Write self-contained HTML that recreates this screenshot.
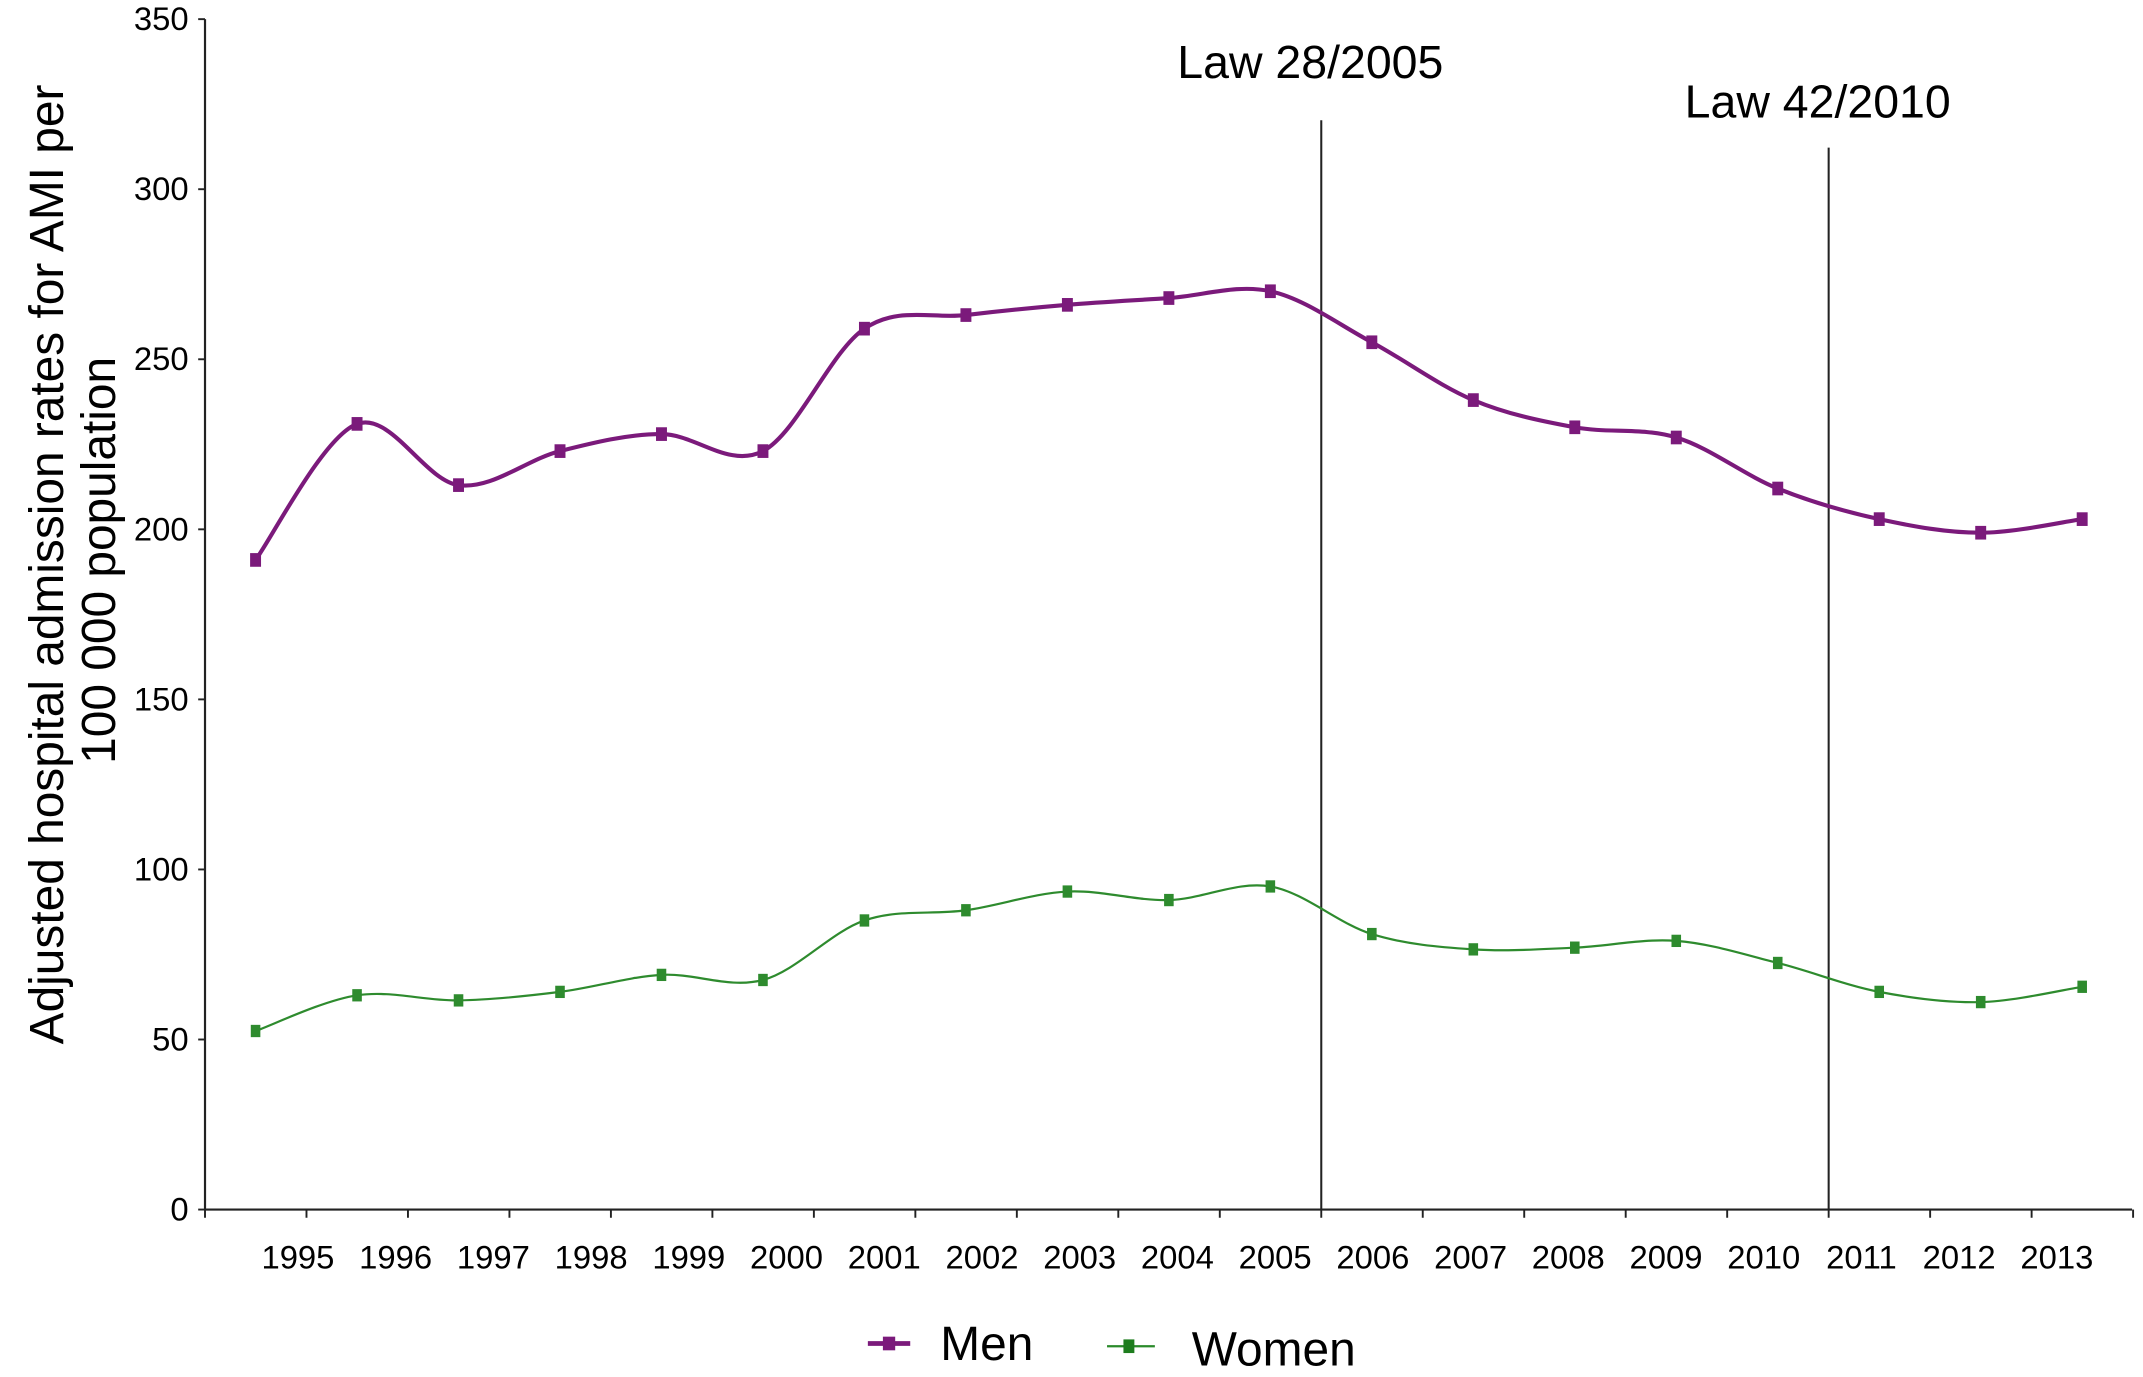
<!DOCTYPE html>
<html><head><meta charset="utf-8"><style>
html,body{margin:0;padding:0;background:#fff;}
svg{display:block;font-family:"Liberation Sans",sans-serif;}
</style></head><body>
<svg id="chart" width="2143" height="1377" viewBox="0 0 1568 1007.5" xmlns="http://www.w3.org/2000/svg">
<g id="axes"></g>
<g id="series"></g>
<text transform="translate(46,413) rotate(-90)" text-anchor="middle" font-size="35" fill="#000">Adjusted hospital admission rates for AMI per</text>
<text transform="translate(84,410) rotate(-90)" text-anchor="middle" font-size="35" fill="#000">100 000 population</text>
<g>
  <line x1="635" y1="983" x2="666" y2="983" stroke="#7b1a7b" stroke-width="3.5"/>
  <rect x="646" y="978" width="9" height="10" fill="#7b1a7b"/>
  <text x="688" y="995" font-size="35">Men</text>
  <line x1="810" y1="985" x2="845" y2="985" stroke="#2a8a2a" stroke-width="1.6"/>
  <rect x="822" y="980" width="8" height="10" fill="#1e7d1e"/>
  <text x="872" y="999" font-size="35">Women</text>
</g>
</svg>
<script>
const years = ["1995","1996","1997","1998","1999","2000","2001","2002","2003","2004","2005","2006","2007","2008","2009","2010","2011","2012","2013"];
const menValues = [191,231,213,223,228,223,259,263,266,268,270,255,238,230,227,212,203,199,203];
const womenValues = [52.5,63,61.5,64,69,67.5,85,88,93.5,91,95,81,76.5,77,79,72.5,64,61,65.5];
const yTicks = [0,50,100,150,200,250,300,350];
const lawLabels = ["Law 28/2005","Law 42/2010"];
const lawAfterIndex = [10,15];

const NS="http://www.w3.org/2000/svg";
const X0=150, X1=1560, Y0=885, YTOP=14, CAT=74.25, YMAX=350;
function xScale(i){return X0+37+CAT*i;}
function tickX(i){return X0+CAT*i;}
function labelX(i){return 218+71.5*i;}
function yScale(v){return Y0-(Y0-YTOP)*v/YMAX;}
function mk(tag,attrs,parent){const e=document.createElementNS(NS,tag);for(const k in attrs)e.setAttribute(k,attrs[k]);parent.appendChild(e);return e;}
const axes=document.getElementById('axes');
const series=document.getElementById('series');

const ya=mk('line',{x1:X0,y1:YTOP,x2:X0,y2:Y0,stroke:'#222','stroke-width':1.6},axes);


const xa=mk('line',{x1:X0,y1:Y0,x2:X1,y2:Y0,stroke:'#222','stroke-width':1.6},axes);



yTicks.forEach(v=>{
  const y=yScale(v);
  const t=mk('line',{x1:X0-5,y1:y,x2:X0,y2:y,stroke:'#222','stroke-width':1.4},axes);
  
  
  const l=mk('text',{x:X0-12,y:y+8,'text-anchor':'end','font-size':24,fill:'#000'},axes);
  l.textContent=v;
  
  
});
for(let i=0;i<=years.length;i++){
  const x=tickX(i);
  const t=mk('line',{x1:x,y1:Y0,x2:x,y2:Y0+6,stroke:'#222','stroke-width':1.4},axes);
  
  
}
years.forEach((yr,i)=>{
  const l=mk('text',{x:labelX(i),y:928,'text-anchor':'middle','font-size':24,fill:'#000'},axes);
  l.textContent=yr;
  
  
});

const lawTop=[88,108], lawLabelY=[57,86];
lawAfterIndex.forEach((idx,k)=>{
  const x=tickX(idx+1);
  const ln=mk('line',{x1:x,y1:lawTop[k],x2:x,y2:Y0,stroke:'#222','stroke-width':1.5},axes);
  
  
  const t=mk('text',{x:x-8,y:lawLabelY[k],'text-anchor':'middle','font-size':34,fill:'#000'},axes);
  t.textContent=lawLabels[k];
  
  
});

function smoothPath(pts){
  let d=`M${pts[0][0]},${pts[0][1]}`;
  for(let i=0;i<pts.length-1;i++){
    const p0=pts[Math.max(i-1,0)],p1=pts[i],p2=pts[i+1],p3=pts[Math.min(i+2,pts.length-1)];
    const c1=[p1[0]+(p2[0]-p0[0])/6,p1[1]+(p2[1]-p0[1])/6];
    const c2=[p2[0]-(p3[0]-p1[0])/6,p2[1]-(p3[1]-p1[1])/6];
    d+=` C${c1[0]},${c1[1]} ${c2[0]},${c2[1]} ${p2[0]},${p2[1]}`;
  }
  return d;
}
function drawSeries(vals,color,width,name,ms){
  const pts=vals.map((v,i)=>[xScale(i),yScale(v)]);
  const p=mk('path',{d:smoothPath(pts),fill:'none',stroke:color,'stroke-width':width},series);
  
  
  pts.forEach(pt=>{
    const r=mk('rect',{x:pt[0]-ms/2,y:pt[1]-ms/2-1,width:ms,height:ms+2,fill:color},series);
    
    
  });
}
drawSeries(menValues,'#7b1a7b',3,'men',8);
drawSeries(womenValues,'#2e8b2e',1.6,'women',7);
</script>
</body></html>
